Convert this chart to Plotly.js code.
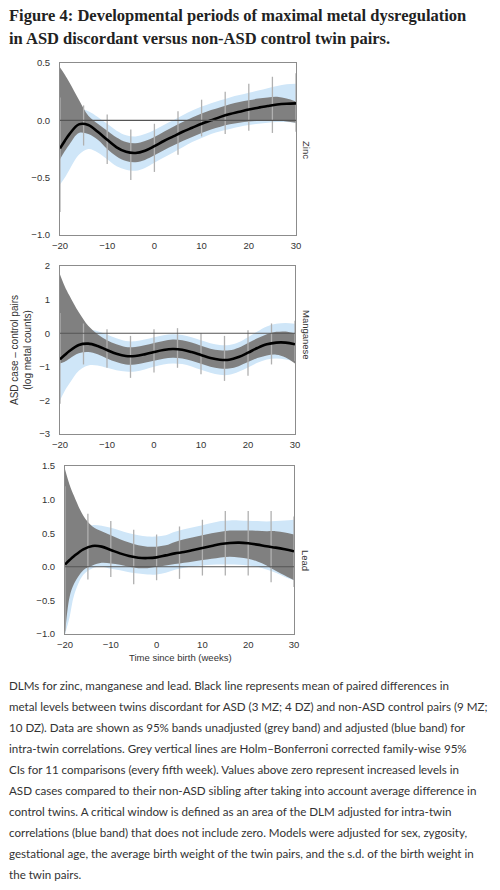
<!DOCTYPE html>
<html>
<head>
<meta charset="utf-8">
<script src="https://cdn.plot.ly/plotly-3.0.1.min.js"></script>
<style>
  html, body { margin: 0; padding: 0; background: #fff; }
  #plot { width: 500px; height: 890px; }
</style>
</head>
<body>
<div id="plot"></div>
<script>
'use strict';

const weeks = [-20, -19, -18, -16, -14, -12, -10, -8, -6, -4, -2, 0, 2, 4, 6, 8, 10, 12, 14, 16, 18, 20, 22, 24, 26, 28, 30];
// Holm-Bonferroni CIs, every fifth week
const ciWeeks = [-20, -15, -10, -5, 0, 5, 10, 15, 20, 25, 30];

// Zinc
const zincMean = [-0.245, -0.18, -0.12, -0.035, -0.04, -0.10, -0.17, -0.235, -0.275, -0.285, -0.265, -0.225, -0.18, -0.14, -0.10, -0.065, -0.03, 0.0, 0.03, 0.055, 0.075, 0.095, 0.11, 0.125, 0.138, 0.145, 0.148];
const zincGreyHi = [0.46, 0.40, 0.33, 0.18, 0.04, -0.03, -0.09, -0.15, -0.19, -0.20, -0.18, -0.145, -0.10, -0.055, -0.015, 0.025, 0.06, 0.09, 0.115, 0.14, 0.16, 0.175, 0.19, 0.20, 0.205, 0.19, 0.165];
const zincGreyLo = [-0.34, -0.27, -0.21, -0.11, -0.12, -0.17, -0.25, -0.315, -0.355, -0.365, -0.345, -0.305, -0.26, -0.22, -0.18, -0.145, -0.11, -0.08, -0.055, -0.035, -0.02, -0.01, -0.005, 0.0, 0.0, -0.01, -0.02];
const zincBlueHi = [0.0, 0.04, 0.07, 0.10, 0.08, 0.03, -0.03, -0.09, -0.13, -0.14, -0.12, -0.085, -0.04, 0.0, 0.045, 0.085, 0.12, 0.15, 0.175, 0.20, 0.22, 0.24, 0.26, 0.28, 0.30, 0.315, 0.32];
const zincBlueLo = [-0.56, -0.50, -0.43, -0.30, -0.25, -0.28, -0.34, -0.40, -0.43, -0.44, -0.415, -0.37, -0.325, -0.28, -0.235, -0.19, -0.155, -0.12, -0.095, -0.075, -0.055, -0.04, -0.03, -0.02, -0.015, -0.015, -0.02];
const zincCiLo = [-0.8, -0.22, -0.38, -0.52, -0.45, -0.30, -0.14, -0.12, -0.09, -0.11, -0.10];
const zincCiHi = [0.2, 0.13, 0.05, -0.08, -0.03, 0.08, 0.18, 0.25, 0.32, 0.38, 0.41];

// Manganese
const mnMean = [-0.78, -0.65, -0.53, -0.35, -0.31, -0.38, -0.50, -0.61, -0.68, -0.68, -0.63, -0.56, -0.50, -0.47, -0.49, -0.56, -0.65, -0.74, -0.79, -0.79, -0.71, -0.58, -0.44, -0.33, -0.28, -0.28, -0.33];
const mnGreyHi = [1.75, 1.40, 1.12, 0.62, 0.22, -0.03, -0.21, -0.33, -0.41, -0.41, -0.36, -0.29, -0.23, -0.19, -0.21, -0.28, -0.37, -0.46, -0.51, -0.51, -0.43, -0.29, -0.15, -0.03, 0.04, 0.05, -0.01];
const mnGreyLo = [-0.90, -0.85, -0.76, -0.60, -0.56, -0.63, -0.75, -0.86, -0.93, -0.93, -0.88, -0.82, -0.76, -0.73, -0.75, -0.82, -0.91, -1.00, -1.05, -1.05, -0.98, -0.86, -0.74, -0.66, -0.64, -0.72, -0.90];
const mnBlueHi = [-0.45, -0.30, -0.18, 0.03, 0.10, 0.06, -0.04, -0.15, -0.23, -0.24, -0.19, -0.12, -0.06, -0.03, -0.05, -0.12, -0.21, -0.30, -0.35, -0.35, -0.27, -0.12, 0.05, 0.20, 0.28, 0.30, 0.28];
const mnBlueLo = [-2.0, -1.72, -1.50, -1.12, -0.96, -0.96, -1.03, -1.10, -1.14, -1.14, -1.08, -1.00, -0.93, -0.90, -0.92, -0.99, -1.09, -1.18, -1.24, -1.24, -1.15, -1.02, -0.88, -0.78, -0.75, -0.78, -0.85];
const mnCiLo = [-2.1, -0.93, -1.03, -1.33, -1.17, -1.03, -1.22, -1.42, -1.27, -0.93, -0.83];
const mnCiHi = [0.6, 0.29, 0.12, -0.08, 0.12, 0.15, 0.0, -0.08, 0.09, 0.29, 0.37];

// Lead
const pbMean = [0.035, 0.10, 0.16, 0.26, 0.31, 0.30, 0.25, 0.20, 0.16, 0.135, 0.13, 0.14, 0.17, 0.20, 0.22, 0.25, 0.28, 0.31, 0.34, 0.355, 0.36, 0.35, 0.33, 0.305, 0.285, 0.26, 0.23];
const pbGreyHi = [1.45, 1.22, 1.05, 0.76, 0.60, 0.53, 0.47, 0.41, 0.36, 0.32, 0.30, 0.30, 0.32, 0.37, 0.41, 0.44, 0.47, 0.50, 0.52, 0.54, 0.54, 0.54, 0.535, 0.53, 0.53, 0.51, 0.48];
const pbGreyLo = [-1.0, -0.45, -0.25, -0.05, 0.02, 0.06, 0.05, 0.03, 0.0, -0.02, -0.02, 0.0, 0.02, 0.04, 0.06, 0.08, 0.10, 0.12, 0.14, 0.15, 0.14, 0.12, 0.08, 0.02, -0.06, -0.13, -0.20];
const pbBlueHi = [0.30, 0.40, 0.48, 0.58, 0.62, 0.61, 0.58, 0.54, 0.50, 0.47, 0.45, 0.45, 0.47, 0.52, 0.56, 0.59, 0.62, 0.65, 0.68, 0.69, 0.69, 0.685, 0.68, 0.675, 0.68, 0.69, 0.70];
const pbBlueLo = [-1.0, -0.75, -0.42, -0.12, -0.02, 0.0, -0.03, -0.05, -0.08, -0.10, -0.115, -0.115, -0.09, -0.045, -0.015, 0.005, 0.02, 0.03, 0.035, 0.035, 0.03, 0.02, 0.0, -0.04, -0.09, -0.15, -0.20];
const pbCiLo = [-0.95, -0.19, -0.15, -0.26, -0.20, -0.18, -0.13, -0.13, -0.13, -0.23, -0.30];
const pbCiHi = [1.2, 0.79, 0.68, 0.55, 0.48, 0.60, 0.70, 0.83, 0.83, 0.83, 0.75];

const metalNames = ['Zinc', 'Manganese', 'Lead'];

const titleLines = [
  'Figure 4: Developmental periods of maximal metal dysregulation',
  'in ASD discordant versus non-ASD control twin pairs.'
];

const captionLines = [
  'DLMs for zinc, manganese and lead. Black line represents mean of paired differences in',
  'metal levels between twins discordant for ASD (3 MZ; 4 DZ) and non-ASD control pairs (9 MZ;',
  '10 DZ). Data are shown as 95% bands unadjusted (grey band) and adjusted (blue band) for',
  'intra-twin correlations. Grey vertical lines are Holm\u2013Bonferroni corrected family-wise 95%',
  'CIs for 11 comparisons (every fifth week). Values above zero represent increased levels in',
  'ASD cases compared to their non-ASD sibling after taking into account average difference in',
  'control twins. A critical window is defined as an area of the DLM adjusted for intra-twin',
  'correlations (blue band) that does not include zero. Models were adjusted for sex, zygosity,',
  'gestational age, the average birth weight of the twin pairs, and the s.d. of the birth weight in',
  'the twin pairs.'
];

const GREY = '#808080',
      BLUE = '#cfe6f8',
      CI_GREY = '#b0b0b0',
      FRAME = '#8c8c8c';

// figure is 500 x 890 px, helpers to go from pixels to paper coords
const W = 500, H = 890;
const px = v => v / W;
const py = v => 1 - v / H;

function panelTraces(n, mean, gLo, gHi, bLo, bHi, ciLo, ciHi) {
  let xa = n === 1 ? 'x' : 'x' + n,
      ya = n === 1 ? 'y' : 'y' + n;

  let band = (lo, hi, color) => [
    {x: weeks, y: lo, xaxis: xa, yaxis: ya, mode: 'lines',
     line: {width: 0, shape: 'spline', color: color}, hoverinfo: 'skip'},
    {x: weeks, y: hi, xaxis: xa, yaxis: ya, mode: 'lines', fill: 'tonexty',
     fillcolor: color, line: {width: 0, shape: 'spline', color: color}, hoverinfo: 'skip'}
  ];

  // vertical CI segments, separated by nulls
  let cx = [], cy = [];
  for (let i = 0; i < ciWeeks.length; i++) {
    cx.push(ciWeeks[i], ciWeeks[i], null);
    cy.push(ciLo[i], ciHi[i], null);
  }

  return [
    ...band(bLo, bHi, BLUE),
    ...band(gLo, gHi, GREY),
    {x: cx, y: cy, xaxis: xa, yaxis: ya, mode: 'lines',
     line: {color: CI_GREY, width: 1.3}, hoverinfo: 'skip'},
    {x: weeks, y: mean, xaxis: xa, yaxis: ya, mode: 'lines',
     line: {color: '#000', width: 2.6, shape: 'spline'}}
  ];
}

const data = [
  ...panelTraces(1, zincMean, zincGreyLo, zincGreyHi, zincBlueLo, zincBlueHi, zincCiLo, zincCiHi),
  ...panelTraces(2, mnMean, mnGreyLo, mnGreyHi, mnBlueLo, mnBlueHi, mnCiLo, mnCiHi),
  ...panelTraces(3, pbMean, pbGreyLo, pbGreyHi, pbBlueLo, pbBlueHi, pbCiLo, pbCiHi)
];

const tickFont = {family: 'Liberation Sans, Arial, sans-serif', size: 9.5, color: '#333'};

function xAxis(left, right, anchor) {
  return {
    domain: [px(left), px(right)],
    anchor: anchor,
    range: [-20, 30],
    tickvals: [-20, -10, 0, 10, 20, 30],
    showgrid: false, zeroline: false,
    showline: true, mirror: true, linecolor: FRAME, linewidth: 1,
    ticks: '', ticklabelstandoff: 2, tickfont: tickFont, fixedrange: true
  };
}

function yAxis(top, bottom, anchor, range, dtick, fmt) {
  return {
    domain: [py(bottom), py(top)],
    anchor: anchor,
    range: range,
    dtick: dtick,
    tick0: 0,
    tickformat: fmt,
    showgrid: false, zeroline: false,
    showline: true, mirror: true, linecolor: FRAME, linewidth: 1,
    ticks: '', ticklabelstandoff: 7, tickfont: tickFont, fixedrange: true
  };
}

const annotations = [];

titleLines.forEach((t, i) => annotations.push({
  text: '<b>' + t + '</b>',
  xref: 'paper', yref: 'paper', x: px(7), y: py(15 + i * 24),
  xanchor: 'left', yanchor: 'middle', showarrow: false,
  font: {family: 'Liberation Serif, serif', size: 16.5, color: '#222'}
}));

captionLines.forEach((t, i) => annotations.push({
  text: t,
  xref: 'paper', yref: 'paper', x: px(7), y: py(685 + i * 21.1),
  xanchor: 'left', yanchor: 'middle', showarrow: false,
  font: {family: 'Lato, sans-serif', size: 11.6, color: '#333'}
}));

// metal names on the right of each panel
const labelY = [150, 335, 560];
metalNames.forEach((m, i) => annotations.push({
  text: m,
  xref: 'paper', yref: 'paper', x: px(306), y: py(labelY[i]),
  xanchor: 'center', yanchor: 'middle', showarrow: false, textangle: 90,
  font: {family: 'Liberation Sans, Arial, sans-serif', size: 9.5, color: '#333'}
}));

annotations.push({
  text: 'ASD case \u2013 control pairs<br>(log metal counts)',
  xref: 'paper', yref: 'paper', x: px(21), y: py(350),
  xanchor: 'center', yanchor: 'middle', showarrow: false, textangle: -90,
  font: {family: 'Liberation Sans, Arial, sans-serif', size: 10, color: '#333'}
});

annotations.push({
  text: 'Time since birth (weeks)',
  xref: 'paper', yref: 'paper', x: px(180), y: py(657),
  xanchor: 'center', yanchor: 'middle', showarrow: false,
  font: {family: 'Liberation Sans, Arial, sans-serif', size: 9.5, color: '#333'}
});

// zero reference line in every panel, drawn above the bands
const shapes = ['', '2', '3'].map(s => ({
  type: 'line', xref: 'x' + s + ' domain', yref: 'y' + s,
  x0: 0, x1: 1, y0: 0, y1: 0, layer: 'above',
  line: {color: '#555', width: 1.1}
}));

const layout = {
  width: W, height: H,
  margin: {l: 0, r: 0, t: 0, b: 0},
  paper_bgcolor: '#fff', plot_bgcolor: '#fff',
  showlegend: false,
  xaxis: xAxis(60, 296, 'y'),
  yaxis: yAxis(63, 235, 'x', [-1, 0.5], 0.5, '.1f'),
  xaxis2: xAxis(60, 295, 'y2'),
  yaxis2: yAxis(266, 434, 'x2', [-3, 2], 1, 'd'),
  xaxis3: xAxis(65, 294, 'y3'),
  yaxis3: yAxis(466, 634, 'x3', [-1, 1.5], 0.5, '.1f'),
  annotations: annotations,
  shapes: shapes
};

Plotly.newPlot('plot', data, layout, {displayModeBar: false, staticPlot: true});
</script>
</body>
</html>
